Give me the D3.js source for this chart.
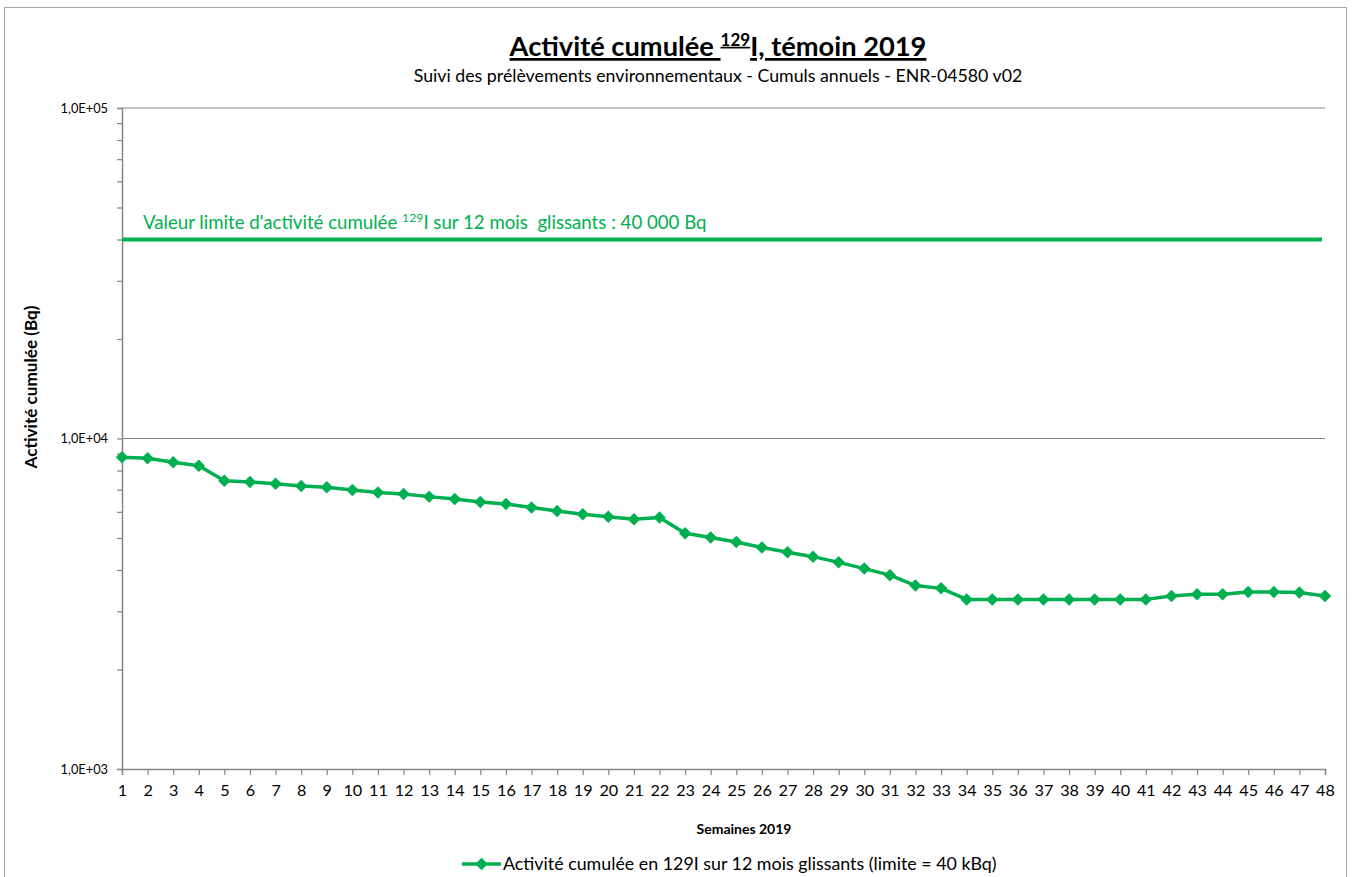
<!DOCTYPE html>
<html>
<head>
<meta charset="utf-8">
<script src="https://cdn.jsdelivr.net/npm/d3@7"></script>
<style>
  body { margin: 0; background: #fff; }
  svg { font-family: Lato, "Open Sans", sans-serif; }
</style>
</head>
<body>
<svg id="drawing_region"></svg>
<script>
// semaines 2019
const weeks = d3.range(1, 49);

// activité cumulée 129I sur 12 mois glissants (Bq)
const activite = [
  8770, 8710, 8470, 8270, 7450, 7390, 7300, 7180, 7120, 6990,
  6870, 6790, 6670, 6560, 6430, 6340, 6180, 6030, 5900, 5800,
  5700, 5770, 5170, 5020, 4860, 4680, 4530, 4390, 4220, 4040,
  3860, 3590, 3520, 3260, 3260, 3260, 3260, 3260, 3260, 3260,
  3260, 3340, 3380, 3380, 3430, 3430, 3420, 3340
];

// valeur limite (Bq)
const limite = 40000;

const yTicks = [1e3, 1e4, 1e5];
const yTickLabels = ["1,0E+03", "1,0E+04", "1,0E+05"];

const config = {
    width: 1358,
    height: 877,
    margin: {top: 108, right: 33, bottom: 108, left: 122}
};
const green = "#00B050";
const grey = "#868686";

// ajuste la taille de police pour retrouver la largeur du texte d'origine
function fitWidth(sel, target) {
    const size = +sel.attr("font-size");
    const w = sel.node().getComputedTextLength();
    const k = target / w;
    sel.attr("font-size", size * k);
    sel.selectAll("tspan").each(function() {
        const t = d3.select(this);
        if (t.attr("font-size")) t.attr("font-size", +t.attr("font-size") * k);
        if (t.attr("dy")) t.attr("dy", +t.attr("dy") * k);
    });
}

const svg = d3.select("#drawing_region")
    .attr("width", config.width)
    .attr("height", config.height);

// cadre du graphique
svg.append("rect")
    .attr("x", 4.5).attr("y", 7.5)
    .attr("width", 1342).attr("height", 900)
    .attr("fill", "none")
    .attr("stroke", "#a6a6a6")
    .attr("stroke-width", 1);

const inner_width = config.width - config.margin.left - config.margin.right;
const inner_height = config.height - config.margin.top - config.margin.bottom;

const chart = svg.append("g")
    .attr("transform", `translate(${config.margin.left}, ${config.margin.top})`);

const xscale = d3.scaleLinear()
    .domain([1, 48])
    .range([0, inner_width]);

const yscale = d3.scaleLog()
    .domain([1e3, 1e5])
    .range([inner_height, 0]);

// lignes de grille
chart.append("g")
    .selectAll("line")
    .data(yTicks.slice(1))
    .join("line")
    .attr("x1", 0).attr("x2", inner_width)
    .attr("y1", d => yscale(d)).attr("y2", d => yscale(d))
    .attr("stroke", grey)
    .attr("stroke-width", 1.2);

// graduations mineures
const minor = [];
[1e3, 1e4].forEach(b => { for (let k = 2; k <= 9; k++) minor.push(b * k); });

const yaxis = d3.axisLeft(yscale)
    .tickValues(yTicks.concat(minor))
    .tickSize(5)
    .tickPadding(9)
    .tickFormat(d => { const i = yTicks.indexOf(d); return i >= 0 ? yTickLabels[i] : ""; });

const yaxis_group = chart.append("g").call(yaxis);
yaxis_group.select(".domain").attr("stroke", grey).attr("stroke-width", 1.5);
yaxis_group.selectAll(".tick line").attr("stroke", grey).attr("stroke-width", 1.2);
yaxis_group.selectAll(".tick text")
    .attr("font-size", 12.8)
    .attr("font-family", "Lato")
    .attr("fill", "#000");

const xaxis = d3.axisBottom(xscale)
    .tickValues(weeks)
    .tickSize(6)
    .tickPadding(9)
    .tickFormat(d3.format("d"));

const xaxis_group = chart.append("g")
    .attr("transform", `translate(0, ${inner_height})`)
    .call(xaxis);
xaxis_group.select(".domain").attr("stroke", grey).attr("stroke-width", 1.5);
xaxis_group.selectAll(".tick line").attr("stroke", grey).attr("stroke-width", 1.2);
xaxis_group.selectAll(".tick text")
    .attr("font-size", 16.2)
    .attr("font-family", "Lato")
    .attr("fill", "#000");

// valeur limite
chart.append("line")
    .attr("x1", xscale(1)).attr("x2", xscale(48) - 3)
    .attr("y1", yscale(limite)).attr("y2", yscale(limite))
    .attr("stroke", green)
    .attr("stroke-width", 4);

const lim_label = chart.append("text")
    .attr("x", 21)
    .attr("y", yscale(limite) - 11)
    .attr("fill", green)
    .attr("font-size", 16);
lim_label.append("tspan").text("Valeur limite d'activité cumulée ");
lim_label.append("tspan").attr("font-size", 10.5).attr("dy", -6).text("129");
lim_label.append("tspan").attr("dy", 6).text("I sur 12 mois\u00a0 glissants : 40 000 Bq");
fitWidth(lim_label, 564);

// série
const line = d3.line()
    .x((d, i) => xscale(weeks[i]))
    .y(d => yscale(d));

chart.append("path")
    .datum(activite)
    .attr("d", line)
    .attr("fill", "none")
    .attr("stroke", green)
    .attr("stroke-width", 3.5)
    .attr("stroke-linejoin", "round");

const diamond = d3.symbol(d3.symbolSquare, 78);
chart.append("g")
    .selectAll("path")
    .data(activite)
    .join("path")
    .attr("d", diamond)
    .attr("transform", (d, i) => `translate(${xscale(weeks[i])}, ${yscale(d)}) rotate(45)`)
    .attr("fill", green);

// titres
const title = svg.append("text")
    .attr("x", 718)
    .attr("y", 56)
    .attr("text-anchor", "middle")
    .attr("font-size", 24)
    .attr("font-weight", "bold")
    .attr("text-decoration", "underline");
title.append("tspan").text("Activité cumulée ");
title.append("tspan").attr("font-size", 15).attr("dy", -9).text("129");
title.append("tspan").attr("dy", 9).text("I, témoin 2019");
fitWidth(title, 417);

const subtitle = svg.append("text")
    .attr("x", 718)
    .attr("y", 82)
    .attr("text-anchor", "middle")
    .attr("font-size", 14)
    .text("Suivi des prélèvements environnementaux - Cumuls annuels - ENR-04580 v02");
fitWidth(subtitle, 609);

svg.append("text")
    .attr("x", 744)
    .attr("y", 834)
    .attr("text-anchor", "middle")
    .attr("font-size", 14)
    .attr("font-weight", "bold")
    .text("Semaines 2019");

const ytitle = svg.append("text")
    .attr("transform", "translate(37, 387) rotate(-90)")
    .attr("text-anchor", "middle")
    .attr("font-size", 13.5)
    .attr("font-weight", "bold")
    .text("Activité cumulée (Bq)");
fitWidth(ytitle, 163);

// légende
const legend = svg.append("g").attr("transform", "translate(462, 864)");
legend.append("line")
    .attr("x1", 0).attr("x2", 39)
    .attr("stroke", green).attr("stroke-width", 3.5);
legend.append("path")
    .attr("d", diamond)
    .attr("transform", "translate(19.5, 0) rotate(45)")
    .attr("fill", green);
const legend_text = legend.append("text")
    .attr("x", 41)
    .attr("y", 5.5)
    .attr("font-size", 14)
    .text("Activité cumulée en 129I sur 12 mois glissants (limite = 40 kBq)");
fitWidth(legend_text, 494);
</script>
</body>
</html>
